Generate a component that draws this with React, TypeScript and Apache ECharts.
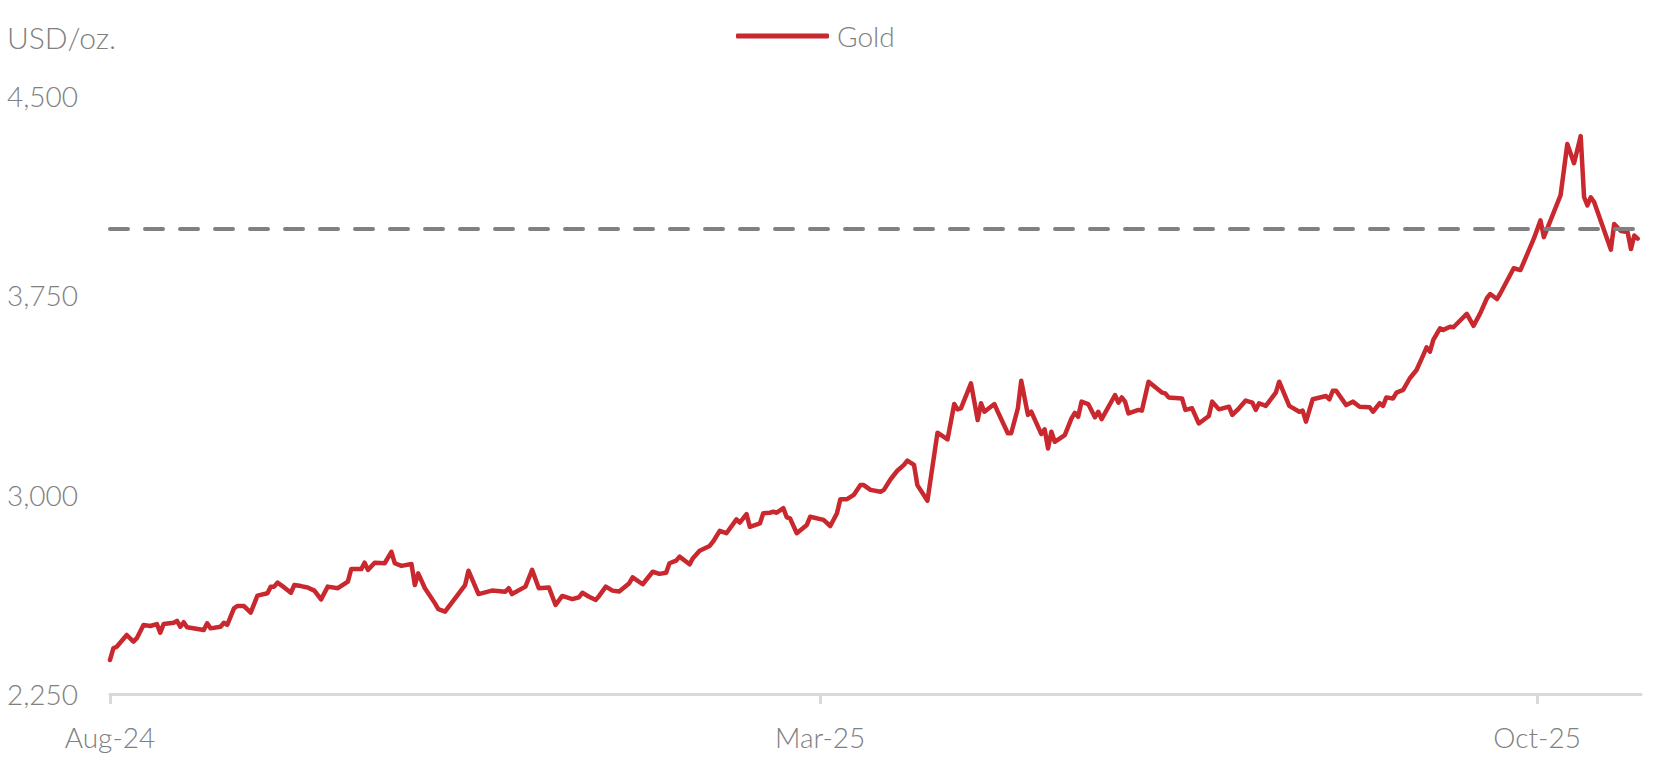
import React, { useEffect, useRef } from "react";
import * as echarts from "echarts";

const dates = [
  "2024-08-01","2024-08-02","2024-08-03","2024-08-06","2024-08-08","2024-08-09","2024-08-11","2024-08-13","2024-08-15","2024-08-16",
  "2024-08-17","2024-08-20","2024-08-21","2024-08-22","2024-08-23","2024-08-24","2024-08-29","2024-08-30","2024-08-31","2024-09-03",
  "2024-09-04","2024-09-05","2024-09-07","2024-09-08","2024-09-10","2024-09-12","2024-09-14","2024-09-17","2024-09-18","2024-09-19",
  "2024-09-20","2024-09-22","2024-09-24","2024-09-25","2024-09-27","2024-09-29","2024-10-01","2024-10-03","2024-10-05","2024-10-08",
  "2024-10-11","2024-10-12","2024-10-15","2024-10-16","2024-10-17","2024-10-19","2024-10-22","2024-10-24","2024-10-25","2024-10-27",
  "2024-10-30","2024-10-31","2024-11-01","2024-11-03","2024-11-06","2024-11-07","2024-11-09","2024-11-12","2024-11-15","2024-11-16",
  "2024-11-19","2024-11-23","2024-11-27","2024-11-28","2024-11-29","2024-12-03","2024-12-05","2024-12-07","2024-12-10","2024-12-12",
  "2024-12-14","2024-12-17","2024-12-19","2024-12-20","2024-12-22","2024-12-24","2024-12-25","2024-12-27","2024-12-29","2024-12-31",
  "2025-01-03","2025-01-04","2025-01-07","2025-01-10","2025-01-12","2025-01-14","2025-01-15","2025-01-17","2025-01-18","2025-01-21",
  "2025-01-22","2025-01-24","2025-01-27","2025-01-28","2025-01-30","2025-02-01","2025-02-04","2025-02-05","2025-02-07","2025-02-08",
  "2025-02-11","2025-02-12","2025-02-14","2025-02-15","2025-02-16","2025-02-18","2025-02-19","2025-02-20","2025-02-22","2025-02-25",
  "2025-02-26","2025-03-02","2025-03-04","2025-03-06","2025-03-07","2025-03-09","2025-03-11","2025-03-13","2025-03-14","2025-03-16",
  "2025-03-19","2025-03-20","2025-03-22","2025-03-24","2025-03-26","2025-03-27","2025-03-29","2025-03-30","2025-04-02","2025-04-05",
  "2025-04-08","2025-04-10","2025-04-11","2025-04-12","2025-04-15","2025-04-17","2025-04-18","2025-04-19","2025-04-22","2025-04-23",
  "2025-04-26","2025-04-27","2025-04-29","2025-04-30","2025-05-02","2025-05-03","2025-05-06","2025-05-07","2025-05-08","2025-05-09",
  "2025-05-10","2025-05-13","2025-05-15","2025-05-16","2025-05-17","2025-05-18","2025-05-20","2025-05-22","2025-05-23","2025-05-24",
  "2025-05-28","2025-05-29","2025-05-30","2025-05-31","2025-06-01","2025-06-04","2025-06-05","2025-06-07","2025-06-11","2025-06-12",
  "2025-06-13","2025-06-17","2025-06-18","2025-06-20","2025-06-22","2025-06-25","2025-06-26","2025-06-28","2025-07-01","2025-07-02",
  "2025-07-04","2025-07-06","2025-07-08","2025-07-09","2025-07-10","2025-07-12","2025-07-15","2025-07-16","2025-07-19","2025-07-22",
  "2025-07-23","2025-07-24","2025-07-26","2025-07-30","2025-07-31","2025-08-01","2025-08-02","2025-08-05","2025-08-07","2025-08-09",
  "2025-08-12","2025-08-13","2025-08-15","2025-08-16","2025-08-17","2025-08-19","2025-08-20","2025-08-22","2025-08-24","2025-08-26",
  "2025-08-28","2025-08-29","2025-08-30","2025-08-31","2025-09-02","2025-09-03","2025-09-05","2025-09-06","2025-09-10","2025-09-12",
  "2025-09-14","2025-09-16","2025-09-17","2025-09-19","2025-09-20","2025-09-24","2025-09-26","2025-09-30","2025-10-02","2025-10-03",
  "2025-10-08","2025-10-10","2025-10-12","2025-10-14","2025-10-15","2025-10-16","2025-10-17","2025-10-18","2025-10-23","2025-10-24",
  "2025-10-26","2025-10-28","2025-10-29","2025-10-30","2025-10-31"
];

const gold = [
  2378,2422,2428,2472,2447,2460,2510,2506,2513,2481,
  2513,2518,2525,2503,2520,2501,2491,2516,2497,2503,
  2518,2510,2572,2581,2581,2556,2620,2629,2654,2654,
  2669,2651,2631,2660,2656,2651,2639,2606,2654,2648,
  2673,2720,2720,2744,2717,2744,2742,2785,2742,2732,
  2739,2660,2704,2648,2591,2569,2560,2610,2660,2714,
  2626,2639,2635,2648,2626,2654,2717,2648,2651,2585,
  2619,2607,2614,2631,2616,2604,2619,2654,2639,2636,
  2667,2689,2663,2710,2702,2706,2742,2752,2767,2738,
  2761,2789,2807,2823,2864,2855,2907,2895,2927,2879,
  2892,2930,2932,2936,2932,2949,2915,2911,2855,2886,
  2917,2905,2882,2930,2983,2983,2999,3036,3036,3018,
  3011,3018,3058,3090,3112,3128,3112,3036,2977,3233,
  3208,3341,3321,3325,3419,3281,3344,3312,3341,3312,
  3231,3231,3325,3429,3300,3312,3228,3246,3174,3237,
  3199,3224,3287,3308,3293,3350,3341,3291,3312,3284,
  3375,3346,3366,3350,3306,3319,3316,3425,3384,3381,
  3366,3362,3319,3325,3268,3296,3350,3321,3331,3300,
  3325,3354,3346,3319,3344,3334,3384,3425,3334,3312,
  3316,3275,3359,3371,3359,3391,3391,3337,3350,3331,
  3329,3312,3344,3334,3366,3362,3384,3394,3438,3469,
  3525,3554,3538,3582,3626,3620,3632,3630,3680,3635,
  3682,3739,3755,3736,3757,3852,3845,3963,4032,3969,
  4127,4319,4247,4349,4120,4088,4119,4101,3922,4018,
  3992,3988,3924,3975,3963
];

const seriesName = "Gold";
const unitLabel = "USD/oz.";
const referenceLevel = 4000;
const xTickDates = ["2024-08-01", "2025-03-01", "2025-10-01"];
const xRange = ["2024-08-01", "2025-11-01"];
const yMin = 2250;
const yMax = 4500;
const yStep = 750;
const monthNames = ["Jan","Feb","Mar","Apr","May","Jun","Jul","Aug","Sep","Oct","Nov","Dec"];

const toTs = (s: string) => {
  const [y, m, d] = s.split("-").map(Number);
  return new Date(y, m - 1, d).getTime();
};

const FONT = "Lato, 'Source Sans Pro', 'Open Sans', sans-serif";
const TEXT_COLOR = "#808080";
const RED = "#c8282e";

export default function App() {
  const ref = useRef<HTMLDivElement>(null);

  useEffect(() => {
    if (!ref.current) return;
    const chart = echarts.init(ref.current, undefined, { renderer: "svg" });
    const data = dates.map((d, i) => [toTs(d), gold[i]]);
    const tickTs = xTickDates.map(toTs);

    chart.setOption({
      animation: false,
      backgroundColor: "#ffffff",
      grid: { left: 110, right: 18, top: 96, bottom: 87, containLabel: false },
      legend: {
        data: [{ name: seriesName, icon: "roundRect" }],
        left: 731,
        top: 17,
        itemWidth: 93,
        itemHeight: 5,
        itemGap: 10,
        itemStyle: { color: RED, borderWidth: 0 },
        textStyle: {
          fontFamily: FONT,
          fontWeight: 300,
          fontSize: 28,
          color: TEXT_COLOR,
          padding: [0, 0, 0, 3],
        },
      },
      graphic: [
        {
          type: "text",
          x: 7,
          y: 37,
          style: {
            text: unitLabel,
            fontFamily: FONT,
            fontWeight: 300,
            fontSize: 30,
            fill: TEXT_COLOR,
            verticalAlign: "middle",
            align: "left",
          },
        },
      ],
      xAxis: {
        type: "value",
        min: toTs(xRange[0]),
        max: toTs(xRange[1]),
        axisLine: { show: true, lineStyle: { color: "#d9d9d9", width: 3 } },
        axisTick: {
          show: true,
          length: 10,
          customValues: tickTs,
          lineStyle: { color: "#d9d9d9", width: 3 },
        },
        axisLabel: {
          customValues: tickTs,
          margin: 29,
          fontFamily: FONT,
          fontWeight: 300,
          fontSize: 28,
          color: TEXT_COLOR,
          formatter: (v: number) => {
            const dt = new Date(v);
            return monthNames[dt.getMonth()] + "-" + String(dt.getFullYear()).slice(2);
          },
        },
        splitLine: { show: false },
      },
      yAxis: {
        type: "value",
        min: yMin,
        max: yMax,
        interval: yStep,
        axisLine: { show: false },
        axisTick: { show: false },
        splitLine: { show: false },
        axisLabel: {
          align: "left",
          margin: 103,
          fontFamily: FONT,
          fontWeight: 300,
          fontSize: 28,
          color: TEXT_COLOR,
          formatter: (v: number) => v.toLocaleString("en-US"),
        },
      },
      series: [
        {
          name: seriesName,
          type: "line",
          data,
          symbol: "none",
          showSymbol: false,
          lineStyle: { color: RED, width: 4.5, join: "round", cap: "round" },
          itemStyle: { color: RED },
          markLine: {
            silent: true,
            symbol: "none",
            label: { show: false },
            lineStyle: { color: "#808080", width: 4, type: [18, 17], cap: "round" },
            data: [{ yAxis: referenceLevel }],
          },
        },
      ],
    });

    return () => chart.dispose();
  }, []);

  return (
    <div
      ref={ref}
      style={{ position: "absolute", left: 0, top: 0, width: 1659, height: 781 }}
    />
  );
}
